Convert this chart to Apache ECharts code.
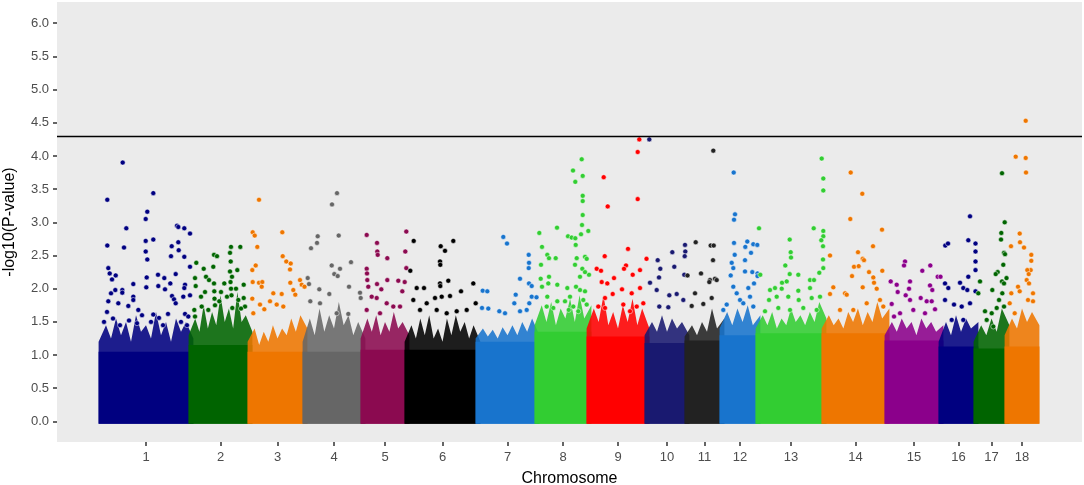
<!DOCTYPE html>
<html>
<head>
<meta charset="utf-8">
<script src="https://cdn.jsdelivr.net/npm/echarts@6/dist/echarts.min.js"></script>
<style>
  html, body { margin: 0; padding: 0; background: #fff; }
  #chart { width: 1084px; height: 485px; }
</style>
</head>
<body>
<div id="chart"></div>
<script>
// ------------------------------
// DATA
// ------------------------------
const chromNames = ["1","2","3","4","5","6","7","8","9","10","11","12","13","14","15","16","17","18"];
// plotted width of each chromosome, in axis units
const chromLen = [90, 59, 55, 58, 44, 71, 59, 52, 58, 40, 35, 36, 66, 63, 54, 35, 31, 30];
const chromColors = ["#000080","#006400","#EE7600","#666666","#8B0A50","#000000","#1874CD","#32CD32","#FF0000",
                     "#191970","#222222","#1874CD","#32CD32","#EE7600","#8B008B","#000080","#006400","#EE7600"];
const yTicks = [0, 0.5, 1, 1.5, 2, 2.5, 3, 3.5, 4, 4.5, 5, 5.5, 6];
const threshold = 4.3;

// height up to which the SNP cloud is a solid mass
const blockTop = [1.05, 1.15, 1.05, 1.05, 1.08, 1.08, 1.2, 1.35, 1.28, 1.18, 1.22, 1.3, 1.33, 1.33, 1.22, 1.13, 1.1, 1.13];
// upper edge of the dense fringe, sampled evenly along each chromosome
const fringeTop = [
  [1.2,1.45,1.25,1.55,1.3,1.5,1.2,1.6,1.35,1.45,1.25,1.65,1.3,1.5,1.2,1.55,1.35,1.5,1.25],
  [1.3,1.55,1.35,1.75,1.4,1.65,1.45,1.9,1.5,1.7,1.4,1.95,1.5,1.6,1.35],
  [1.2,1.4,1.15,1.35,1.2,1.45,1.25,1.4,1.3,1.55,1.35,1.6,1.4],
  [1.2,1.55,1.3,1.7,1.35,1.6,1.4,1.8,1.45,1.6,1.3,1.5,1.25],
  [1.25,1.55,1.35,1.6,1.3,1.5,1.35,1.65,1.4,1.5,1.3],
  [1.2,1.45,1.25,1.55,1.3,1.6,1.25,1.4,1.2,1.55,1.3,1.6,1.35,1.5,1.25,1.45,1.2],
  [1.25,1.4,1.28,1.38,1.25,1.42,1.3,1.45,1.3,1.5,1.35,1.55,1.3],
  [1.45,1.75,1.5,1.8,1.45,1.7,1.55,1.85,1.5,1.9,1.55,1.75],
  [1.4,1.7,1.5,1.9,1.45,1.65,1.4,1.75,1.5,1.85,1.45,1.7,1.4],
  [1.3,1.5,1.35,1.6,1.35,1.55,1.4,1.5,1.3],
  [1.28,1.45,1.3,1.5,1.35,1.7,1.4,1.55],
  [1.4,1.65,1.45,1.7,1.5,1.75,1.45,1.6],
  [1.4,1.6,1.45,1.65,1.4,1.55,1.45,1.7,1.5,1.6,1.45,1.65,1.5,1.8,1.55],
  [1.4,1.6,1.45,1.55,1.4,1.65,1.5,1.7,1.45,1.65,1.5,1.8,1.55,1.7],
  [1.3,1.5,1.35,1.55,1.4,1.5,1.3,1.55,1.4,1.5,1.35,1.45],
  [1.2,1.5,1.3,1.6,1.35,1.55,1.4,1.5],
  [1.2,1.45,1.3,1.55,1.35,1.7,1.45],
  [1.3,1.55,1.4,1.7,1.5,1.65,1.45]
];
// scattered SNPs above the fringe: [position within chromosome, -log10(p)]
const peaks = [
  [[21.7,3.90],[6.3,3.34],[52.3,3.44],[46.3,3.16],[44.7,3.05],[25.3,2.91],[76,2.95],[77.3,2.93],[83.3,2.91],[89,2.83],
   [6.3,2.65],[23,2.62],[44.7,2.72],[52.3,2.74],[44.7,2.56],[46.3,2.44],[70.7,2.64],[77.3,2.70],[77.7,2.58],[70,2.49],
   [83.3,2.48],[89,2.33],[7.3,2.31],[8.7,2.23],[14.7,2.20],[11,2.14],[45.7,2.17],[57,2.21],[63.3,2.16],[74.7,2.22],
   [32.3,2.07],[57.3,2.04],[64,1.99],[84,2.06],[10,1.93],[14.3,1.98],[21.3,1.98],[45.3,2.02],[69.3,2.08],[83.3,2.01],
   [89,1.90],[32.3,1.88],[32.3,1.83],[71,1.89],[73,1.84],[74.7,1.78],[27.3,1.74],[37.3,1.68],[6,1.65],[17.3,1.78],
   [7.3,1.81],[21.3,1.94],[82.3,1.88],[84,1.62],[87.3,1.58],[52.3,1.61],[3,1.5],[12,1.55],[19,1.45],[28,1.52],
   [36,1.48],[41,1.6],[50,1.5],[58,1.56],[62,1.45],[67,1.62],[80,1.5],[86,1.45]],
  [[40,2.63],[49.3,2.63],[23,2.51],[26,2.49],[39,2.54],[39.7,2.41],[5.3,2.39],[12.7,2.30],[22.3,2.33],[46.3,2.28],
   [4,2.16],[4.7,2.04],[15,2.18],[18,2.13],[39,2.26],[41,2.18],[33.3,2.08],[23,2.08],[23.3,1.96],[52.7,2.06],
   [10,1.88],[47.3,1.83],[36,1.88],[28.3,1.81],[17.3,1.68],[10.7,1.73],[3.3,1.68],[4,1.58],[52.7,1.86],[54,1.73],
   [41.3,1.71],[23.5,1.85],[24,1.75],[40,2.0],[40.5,1.9],[39.5,2.1],[14,1.95],[30,1.95],[45,2.0],[50,1.7]],
  [[9,3.34],[2.7,2.85],[4.7,2.80],[32.3,2.85],[7.3,2.63],[32.7,2.49],[36.3,2.41],[40.7,2.38],[5.7,2.35],[40,2.29],
   [2.3,2.28],[2.7,2.10],[9,2.09],[12.3,2.10],[11.7,2.03],[2.3,1.85],[40.3,2.09],[50,2.13],[51.7,2.06],[54.5,2.03],
   [23.3,1.93],[31.7,1.92],[43.3,1.98],[45.3,1.91],[10,1.76],[14.3,1.69],[20,1.81],[26.7,1.76],[33.3,1.73],[3.3,1.63]],
  [[32,3.44],[27,3.27],[12.7,2.79],[33.7,2.80],[12,2.69],[6,2.61],[46,2.40],[26.7,2.35],[35,2.30],[29.3,2.22],
   [32.7,2.19],[2.7,2.16],[4,2.07],[44,2.03],[55,1.94],[55.7,1.86],[14.3,1.99],[24.3,1.92],[5.3,1.81],[15,1.78],
   [31.7,1.63],[43.3,1.62]],
  [[3.7,2.81],[43.3,2.86],[14,2.69],[14.3,2.56],[14.7,2.51],[24.3,2.46],[42.3,2.56],[43.3,2.31],[3.7,2.30],[4,2.23],
   [4.3,2.13],[5.3,2.03],[24.3,2.13],[35.3,2.12],[41.7,2.10],[14,2.07],[18.3,1.99],[39.3,1.96],[8.7,1.88],[13.7,1.86],
   [23.7,1.78],[30.3,1.73],[37,1.73],[3.7,1.68],[17,1.63]],
  [[6.7,2.72],[46.3,2.72],[33.7,2.64],[38,2.57],[33,2.41],[33.3,2.36],[3.3,2.27],[41.3,2.12],[33,2.08],[33.3,2.04],
   [66.3,2.08],[9.7,2.01],[17,2.01],[54,1.96],[28,1.86],[34.7,1.88],[43,1.89],[68.7,1.78],[19.7,1.78],[6.3,1.83],
   [13,1.68],[29.7,1.68],[39.7,1.63],[49.7,1.66],[59.7,1.68]],
  [[25.3,2.78],[29,2.68],[50.7,2.51],[51,2.39],[50.7,2.31],[42,2.15],[4.7,1.97],[9.3,1.96],[51,2.08],[53.7,2.04],
   [37.7,1.91],[53.7,1.88],[58.5,1.87],[4,1.71],[10.3,1.70],[36.3,1.78],[51.3,1.78],[48.7,1.68],[21.3,1.66],[27,1.63],
   [42,1.66]],
  [[44.7,3.95],[36,3.78],[45.7,3.70],[38.3,3.61],[45.7,3.40],[45.7,3.32],[45.7,3.11],[45,2.96],[2.3,2.84],[20,2.92],
   [31,2.79],[34.7,2.77],[38.3,2.76],[44,2.82],[51.3,2.87],[38.7,2.66],[5,2.63],[10.3,2.51],[12,2.46],[18.7,2.46],
   [39.7,2.46],[48,2.48],[49.7,2.45],[4,2.36],[38,2.36],[45.3,2.30],[52,2.21],[48,2.25],[43,2.18],[3.7,2.15],
   [12,2.18],[5,2.03],[11.3,2.08],[20.3,2.06],[30.3,2.01],[39,2.03],[43,1.98],[48,1.96],[10.3,1.88],[20.3,1.81],
   [28,1.81],[33,1.88],[9.7,1.73],[16.3,1.71],[31.7,1.68],[36.3,1.73],[41.3,1.66],[46.3,1.83],[49.7,1.76]],
  [[50.3,4.25],[48.7,4.06],[48.7,3.35],[14.7,3.68],[18.7,3.24],[39,2.60],[15.7,2.49],[57.5,2.45],[7.7,2.30],[12,2.27],
   [37,2.35],[35,2.30],[43.7,2.21],[51,2.28],[12.7,2.10],[18.3,2.08],[25,2.16],[33,1.99],[42.7,1.93],[51,2.01],
   [23.7,1.92],[16,1.86],[9.3,1.73],[16,1.71],[34.3,1.76],[41,1.66],[47.7,1.73],[54.3,1.78]],
  [[2.3,4.25],[38,2.66],[38.3,2.56],[37.7,2.49],[25.3,2.55],[10.7,2.43],[13.3,2.30],[27.3,2.33],[37.3,2.21],[12,2.17],
   [9.7,1.98],[22.3,1.90],[29.7,1.92],[3,2.09],[12.3,1.73],[21.3,1.72],[36.3,1.83]],
  [[26.3,4.08],[8.7,2.70],[23.7,2.65],[26.7,2.65],[26,2.43],[0.5,2.20],[14,2.23],[23,2.13],[28,2.15],[22.3,2.10],
   [29.7,2.13],[8,1.93],[4.7,1.74],[16.3,1.77],[24.7,1.86]],
  [[11.7,3.75],[13,3.12],[12,3.04],[12,2.69],[25.3,2.71],[23.3,2.63],[31.3,2.67],[35.3,2.66],[29,2.54],[12.7,2.51],
   [23,2.43],[9.7,2.39],[11.3,2.31],[30.3,2.25],[23,2.26],[35.5,2.23],[35.5,2.19],[8.7,2.20],[32,2.08],[11.3,2.03],
   [14.7,1.93],[26.3,2.01],[28,1.88],[18,1.83],[21.3,1.78],[4.7,1.76],[1.3,1.68],[31.3,1.73]],
  [[63.7,3.96],[65.3,3.66],[65.3,3.48],[1,2.91],[55.7,2.91],[65.3,2.87],[65.3,2.79],[63.3,2.73],[65,2.64],[31.7,2.74],
   [32.7,2.55],[33,2.47],[27.3,2.35],[65,2.44],[65.3,2.31],[61.3,2.24],[2.3,2.21],[31.7,2.22],[40.3,2.21],[24,2.09],
   [28.7,2.11],[52,2.13],[56,2.13],[12,1.98],[17,2.01],[23.7,2.00],[40.3,1.97],[52,2.01],[11,1.83],[18.7,1.88],
   [30.3,1.88],[40.7,1.83],[53.7,1.86],[62,1.88],[7,1.66],[20.3,1.71],[32,1.68],[45.3,1.71],[58.7,1.68]],
  [[26.7,3.75],[38.3,3.43],[26.3,3.05],[58,2.89],[49,2.64],[34,2.55],[38.7,2.45],[40,2.43],[6,2.50],[30,2.33],
   [34.7,2.34],[58.3,2.27],[45,2.25],[28,2.19],[49.3,2.17],[50,2.09],[9.3,2.02],[6,1.92],[21,1.93],[22.7,1.91],
   [38.7,2.02],[52.7,2.00],[56,1.83],[16,1.68],[29.3,1.68],[42.7,1.78],[59.3,1.73]],
  [[18,2.41],[17,2.35],[3.7,2.11],[9.7,2.06],[10.7,1.95],[23,2.11],[22,2.00],[18.7,1.90],[4.7,1.77],[35.3,2.27],
   [43.3,2.35],[50.7,2.18],[53.5,2.18],[43,2.05],[45.3,1.98],[23,1.83],[33.7,1.86],[39.7,1.81],[44.7,1.81],[7,1.58],
   [13,1.63],[26.3,1.68],[38,1.63],[48,1.69]],
  [[29,3.09],[4.3,2.65],[7,2.68],[27.3,2.73],[34.5,2.68],[34.5,2.56],[34.5,2.41],[34.5,2.28],[27.3,2.18],[19,2.09],
   [4,2.08],[7.3,2.01],[22.3,2.01],[26.3,1.98],[34.5,1.96],[13,1.76],[20.7,1.73],[29,1.78],[4,1.83],[10.7,1.53],
   [22.3,1.53]],
  [[26,3.74],[28.7,3.00],[25.3,2.84],[25,2.74],[28,2.54],[29,2.52],[27.3,2.36],[21.7,2.25],[19.7,2.22],[30.5,2.16],
   [4,2.11],[2.3,1.93],[16.3,1.98],[26,2.11],[28,2.08],[26.3,1.93],[23,1.83],[9,1.66],[15.7,1.63],[20.7,1.71],
   [28,1.73],[10.7,1.53],[17.3,1.43]],
  [[18.7,4.53],[8.7,3.99],[18.7,3.97],[19,3.75],[12.7,2.83],[13,2.70],[17,2.62],[4,2.64],[24.3,2.51],[24.3,2.42],
   [23.7,2.28],[20.3,2.28],[21.7,2.22],[19.7,2.13],[22,2.08],[11,2.03],[12.7,1.96],[4.3,1.93],[26,1.93],[26,1.81],
   [21,1.83],[2.7,1.78],[7.7,1.63]]
];

// ------------------------------
// HELPERS
// ------------------------------
let chromStart = chromLen.map((l, i) => chromLen.slice(0, i).reduce((a, b) => a + b, 0));
let chromMid = chromStart.map((s, i) => s + chromLen[i] / 2);
let genomeEnd = chromStart[chromStart.length - 1] + chromLen[chromLen.length - 1];
let dotR = 2.4;

let midLabel = v => {
  let i = chromMid.findIndex(m => Math.abs(m - v) < 0.01);
  return i < 0 ? "" : chromNames[i];
};

// solid mass + ragged fringe of one chromosome, in axis coordinates
let renderMass = (params, api) => {
  let i = api.value(2);
  let x0 = chromStart[i], len = chromLen[i];
  let a = api.coord([x0, 0]);
  let b = api.coord([x0 + len, 0]);
  let top = fringeTop[i];
  let pts = [[a[0] - dotR, a[1] + dotR]];
  top.forEach((h, k) => {
    let p = api.coord([x0 + len * k / (top.length - 1), h]);
    let dx = k === 0 ? -dotR : (k === top.length - 1 ? dotR : 0);
    pts.push([p[0] + dx, p[1]]);
  });
  pts.push([b[0] + dotR, b[1] + dotR]);
  let s = api.coord([x0, blockTop[i]]);
  return {
    type: "group",
    children: [
      { type: "polygon", shape: { points: pts }, style: { fill: chromColors[i], opacity: 0.88 } },
      { type: "rect", shape: { x: a[0] - dotR, y: s[1], width: b[0] - a[0] + 2 * dotR, height: a[1] + dotR - s[1] },
        style: { fill: chromColors[i] } }
    ]
  };
};

// ------------------------------
// CHART
// ------------------------------
let series = [{
  type: "custom",
  renderItem: renderMass,
  data: chromNames.map((n, i) => [chromStart[i], 0, i]),
  silent: true,
  z: 1
}];

chromNames.forEach((n, i) => {
  series.push({
    type: "scatter",
    name: n,
    symbolSize: 5,
    itemStyle: { color: chromColors[i], borderColor: "#ffffff", borderWidth: 0.5, opacity: 1 },
    data: peaks[i].map(p => [chromStart[i] + p[0], p[1]]),
    silent: true,
    z: 2
  });
});

series[1].markLine = {
  silent: true,
  symbol: ["none", "none"],
  label: { show: false },
  lineStyle: { color: "#000", width: 1.4, type: "solid" },
  data: [{ yAxis: threshold }],
  z: 3
};

let chart = echarts.init(document.getElementById("chart"));
chart.setOption({
  animation: false,
  backgroundColor: "#ffffff",
  grid: { left: 57, right: 2, top: 2, bottom: 43, show: true, backgroundColor: "#EBEBEB", borderWidth: 0,
          containLabel: false, outerBoundsMode: "none" },
  xAxis: {
    type: "value",
    min: -44,
    max: genomeEnd + 45,
    name: "Chromosome",
    nameLocation: "middle",
    nameGap: 29,
    nameTextStyle: { fontFamily: "Liberation Sans", fontSize: 16, color: "#000" },
    axisLine: { show: false, onZero: false },
    splitLine: { show: false },
    axisTick: { show: true, length: 4, customValues: chromMid, lineStyle: { color: "#333", width: 1.5 } },
    axisLabel: { customValues: chromMid, formatter: midLabel, margin: 9,
                 fontFamily: "Liberation Sans", fontSize: 13, color: "#4D4D4D" }
  },
  yAxis: {
    type: "value",
    min: -0.31,
    max: 6.32,
    name: "-log10(P-value)",
    nameLocation: "middle",
    nameGap: 39,
    nameTextStyle: { fontFamily: "Liberation Sans", fontSize: 16, color: "#000" },
    axisLine: { show: false, onZero: false },
    splitLine: { show: false },
    axisTick: { show: true, length: 4, customValues: yTicks, lineStyle: { color: "#333", width: 1.5 } },
    axisLabel: { customValues: yTicks, formatter: v => v.toFixed(1), margin: 8,
                 fontFamily: "Liberation Sans", fontSize: 13, color: "#4D4D4D" }
  },
  series: series
});
</script>
</body>
</html>
